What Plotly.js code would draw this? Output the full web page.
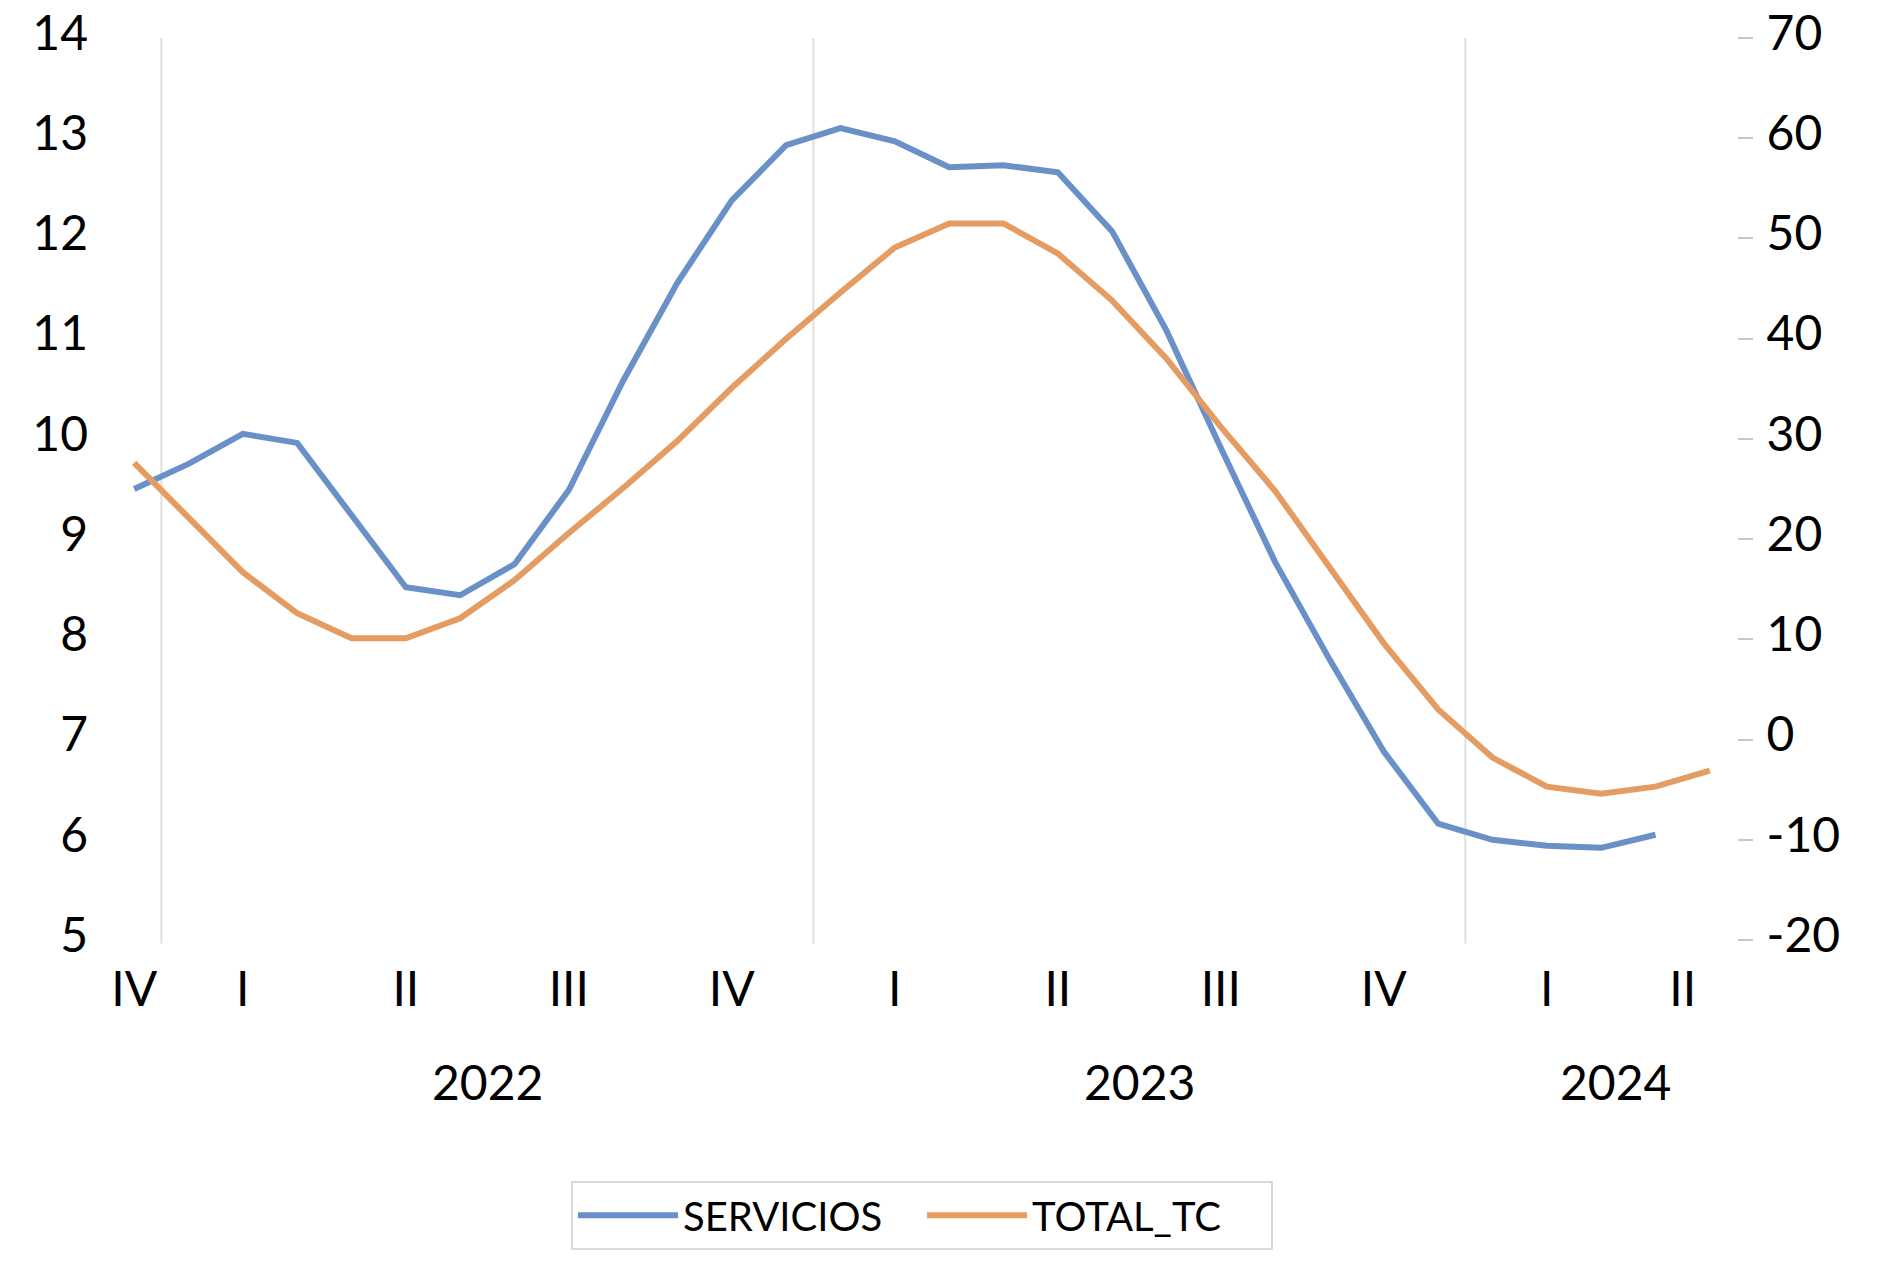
<!DOCTYPE html>
<html>
<head>
<meta charset="utf-8">
<script src="https://cdn.plot.ly/plotly-3.0.1.min.js"></script>
<style>
  html, body { margin: 0; padding: 0; background: #fff; }
  #chart { width: 1880px; height: 1264px; }
</style>
</head>
<body>
<div id="chart"></div>
<script>
// ---------- data ----------
const months = ['2021-12',
  '2022-01','2022-02','2022-03','2022-04','2022-05','2022-06','2022-07','2022-08','2022-09','2022-10','2022-11','2022-12',
  '2023-01','2023-02','2023-03','2023-04','2023-05','2023-06','2023-07','2023-08','2023-09','2023-10','2023-11','2023-12',
  '2024-01','2024-02','2024-03','2024-04','2024-05'];

const servicios = [9.50, 9.75, 10.05, 9.96, 9.24, 8.52, 8.44, 8.75, 9.49, 10.58, 11.56, 12.38, 12.93,
  13.10, 12.97, 12.71, 12.73, 12.66, 12.07, 11.08, 9.91, 8.77, 7.80, 6.88, 6.16,
  6.00, 5.94, 5.92, 6.05, null];

const totalTC = [27.6, 22.1, 16.7, 12.6, 10.1, 10.1, 12.1, 15.9, 20.6, 25.1, 29.8, 35.1, 40.0,
  44.6, 49.1, 51.5, 51.5, 48.5, 43.8, 38.0, 31.2, 24.8, 17.3, 9.6, 3.0,
  -1.8, -4.7, -5.4, -4.7, -3.1];

const quarterLabels = ['IV', 'I', 'II', 'III', 'IV', 'I', 'II', 'III', 'IV', 'I', 'II'];
const quarterSizes  = [1, 3, 3, 3, 3, 3, 3, 3, 3, 3, 2];
const yearLabels = ['', '2022', '2023', '2024'];
const yearSizes  = [1, 12, 12, 5];

const leftTicks  = [5, 6, 7, 8, 9, 10, 11, 12, 13, 14];
const rightTicks = [-20, -10, 0, 10, 20, 30, 40, 50, 60, 70];
const seriesNames = ['SERVICIOS', 'TOTAL_TC'];

// ---------- derived positions ----------
const xIdx = months.map((m, i) => i);
function groupCenters(sizes) {
  const out = []; let start = 0;
  sizes.forEach(s => { out.push(start + (s - 1) / 2); start += s; });
  return out;
}
function groupBounds(sizes) {
  const out = []; let start = 0;
  sizes.forEach((s, k) => { start += s; if (k < sizes.length - 1) out.push(start - 0.5); });
  return out;
}
const qCenters = groupCenters(quarterSizes);
const yCenters = groupCenters(yearSizes);
const yBounds = groupBounds(yearSizes);

const FONT = 'Lato, "Open Sans", "DejaVu Sans", sans-serif';
const TICK_SIZE = 48;
const BLUE = '#6a90c8';
const ORANGE = '#e49c62';
const GRID = '#e0e0e0';

const traces = [
  { x: xIdx, y: servicios, name: seriesNames[0], type: 'scatter', mode: 'lines',
    line: { color: BLUE, width: 6 }, yaxis: 'y', connectgaps: false },
  { x: xIdx, y: totalTC, name: seriesNames[1], type: 'scatter', mode: 'lines',
    line: { color: ORANGE, width: 6 }, yaxis: 'y2' }
];

const annotations = yearLabels.map((t, k) => ({
  text: t, x: yCenters[k], xref: 'x', y: -0.157, yref: 'paper',
  xanchor: 'center', yanchor: 'middle', showarrow: false,
  xshift: (k === yearLabels.length - 1) ? 14 : 0,
  font: { family: FONT, size: TICK_SIZE, color: '#000' }
})).filter(a => a.text !== '');

const shapes = yBounds.map(b => ({
  type: 'line', xref: 'x', yref: 'paper', x0: b, x1: b, y0: -0.004, y1: 1,
  line: { color: GRID, width: 2 }, layer: 'below'
}));

const layout = {
  width: 1880, height: 1264,
  margin: { l: 107, r: 143, t: 38, b: 324, pad: 0 },
  paper_bgcolor: '#ffffff', plot_bgcolor: '#ffffff',
  font: { family: FONT, size: TICK_SIZE, color: '#000000' },
  showlegend: true,
  xaxis: {
    range: [-0.5, 29.5], tickmode: 'array', tickvals: qCenters, ticktext: quarterLabels,
    showgrid: false, zeroline: false, showline: false, ticks: '',
    ticklabelstandoff: 17, tickfont: { family: FONT, size: TICK_SIZE, color: '#000' }
  },
  yaxis: {
    range: [5, 14], tickmode: 'array', tickvals: leftTicks, ticktext: leftTicks.map(String),
    showgrid: false, zeroline: false, showline: false, ticks: '',
    ticklabelstandoff: 18, ticklabelshift: -5,
    tickfont: { family: FONT, size: TICK_SIZE, color: '#000' }
  },
  yaxis2: {
    overlaying: 'y', side: 'right', range: [-20, 70], tickmode: 'array',
    tickvals: rightTicks, ticktext: rightTicks.map(String),
    showgrid: false, zeroline: false, showline: false,
    ticks: 'outside', ticklen: 15, tickwidth: 2, tickcolor: '#c8c8c8',
    ticklabelstandoff: 4, ticklabelshift: -5,
    tickfont: { family: FONT, size: TICK_SIZE, color: '#000' }
  },
  yaxis3: {
    overlaying: 'y', range: [5, 14], tickmode: 'array', tickvals: leftTicks.slice(1, -1),
    showgrid: true, gridcolor: GRID, gridwidth: 2, zeroline: false, showline: false,
    showticklabels: false, ticks: ''
  },
  legend: {
    orientation: 'h', x: 0.2847, xanchor: 'left', y: -0.267, yanchor: 'top',
    xref: 'paper', yref: 'paper',
    bordercolor: '#d9d9d9', borderwidth: 2, bgcolor: '#ffffff',
    font: { family: FONT, size: 40, color: '#000' },
    itemwidth: 100, entrywidth: 234, entrywidthmode: 'pixels'
  },
  annotations: annotations,
  shapes: shapes
};

Plotly.newPlot('chart', traces, layout, { staticPlot: true, displayModeBar: false });
</script>
</body>
</html>
